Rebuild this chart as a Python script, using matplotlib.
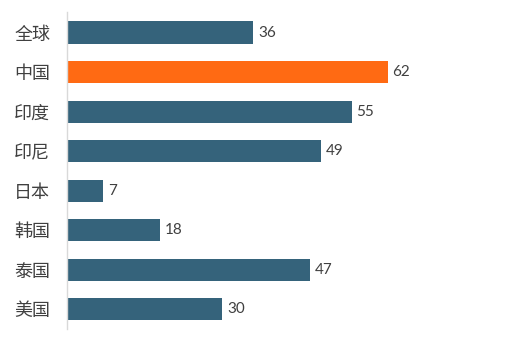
import matplotlib.pyplot as plt

plt.rcParams['font.family'] = ['Noto Sans CJK SC', 'DejaVu Sans']

# Data
countries = ["全球", "中国", "印度", "印尼", "日本", "韩国", "泰国", "美国"]
values = [36, 62, 55, 49, 7, 18, 47, 30]
highlight = "中国"

base_color = "#35637B"
hi_color = "#FF6A13"
colors = [hi_color if c == highlight else base_color for c in countries]

fig = plt.figure(figsize=(5.17, 3.42), dpi=100)
ax = fig.add_axes([67 / 517, 13 / 342, 440 / 517, 317 / 342])

pos = list(range(len(countries)))
bars = ax.barh(pos, values, height=0.56, color=colors)
ax.set_ylim(len(countries) - 0.5, -0.52)
ax.set_xlim(0, 85)

for p, v in zip(pos, values):
    ax.text(v + 0.9, p, str(v), va="center", ha="left", fontsize=11,
            color="#404040", family=["Lato", "DejaVu Sans"])

ax.set_yticks(pos)
ax.set_yticklabels(countries, fontsize=13, color="#404040")
ax.tick_params(axis="y", length=0, pad=12)
ax.set_xticks([])

for s in ["top", "right", "bottom"]:
    ax.spines[s].set_visible(False)
ax.spines["left"].set_color("#D9D9D9")
ax.spines["left"].set_linewidth(1)

fig.savefig("out.png", dpi=100)
